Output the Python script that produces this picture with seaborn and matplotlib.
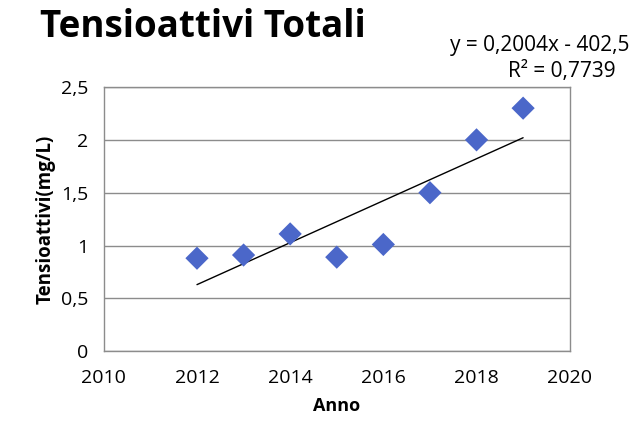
import numpy as np
import pandas as pd
import matplotlib
matplotlib.use("Agg")
import matplotlib.pyplot as plt
from matplotlib.ticker import FuncFormatter
import seaborn as sns

# Values
anni = [2012, 2013, 2014, 2015, 2016, 2017, 2018, 2019]
tensioattivi = [0.88, 0.91, 1.11, 0.89, 1.01, 1.50, 2.00, 2.30]
equazione = "y = 0,2004x - 402,5"
r_quadro = "R² = 0,7739"

df = pd.DataFrame({"Anno": anni, "Tensioattivi": tensioattivi})

sns.set_style("white")
plt.rcParams["font.family"] = ["Open Sans", "DejaVu Sans"]
plt.rcParams["text.color"] = "black"
plt.rcParams["axes.labelcolor"] = "black"
plt.rcParams["xtick.color"] = "black"
plt.rcParams["ytick.color"] = "black"

fig = plt.figure(figsize=(6.33, 4.44), dpi=100)
ax = fig.add_axes([0.164, 0.209, 0.736, 0.595])

# horizontal gridlines
ax.yaxis.grid(True, color="#8c8c8c", linewidth=1)
ax.set_axisbelow(True)

# linear trendline
coef = np.polyfit(df["Anno"], df["Tensioattivi"], 1)
xs = np.array([df["Anno"].min(), df["Anno"].max()])
ax.plot(xs, np.polyval(coef, xs), color="black", linewidth=1, zorder=2)

sns.scatterplot(data=df, x="Anno", y="Tensioattivi", marker="D", s=140,
                color="#4b67c9", edgecolor="none", ax=ax, zorder=3)

ax.set_xlim(2010, 2020)
ax.set_ylim(0, 2.5)
ax.set_xticks(range(2010, 2021, 2))
ax.set_yticks(np.arange(0, 2.51, 0.5))
ax.yaxis.set_major_formatter(FuncFormatter(lambda v, p: f"{v:g}".replace(".", ",")))
ax.tick_params(axis="both", length=0, labelsize=14)
ax.tick_params(axis="y", pad=11)
ax.tick_params(axis="x", pad=13)

for s in ax.spines.values():
    s.set_color("#8c8c8c")
    s.set_linewidth(1)

ax.set_xlabel("Anno", fontsize=13, fontweight="bold", labelpad=7)
ax.set_ylabel("Tensioattivi(mg/L)", fontsize=13.5, fontweight="bold", labelpad=4)

fig.text(0.063, 0.94, "Tensioattivi Totali", fontsize=26.5, fontweight="bold",
         ha="left", va="center")
fig.text(0.995, 0.898, equazione, fontsize=15, ha="right", va="center")
fig.text(0.973, 0.838, r_quadro, fontsize=15, ha="right", va="center")

fig.savefig("out.png", dpi=100)
